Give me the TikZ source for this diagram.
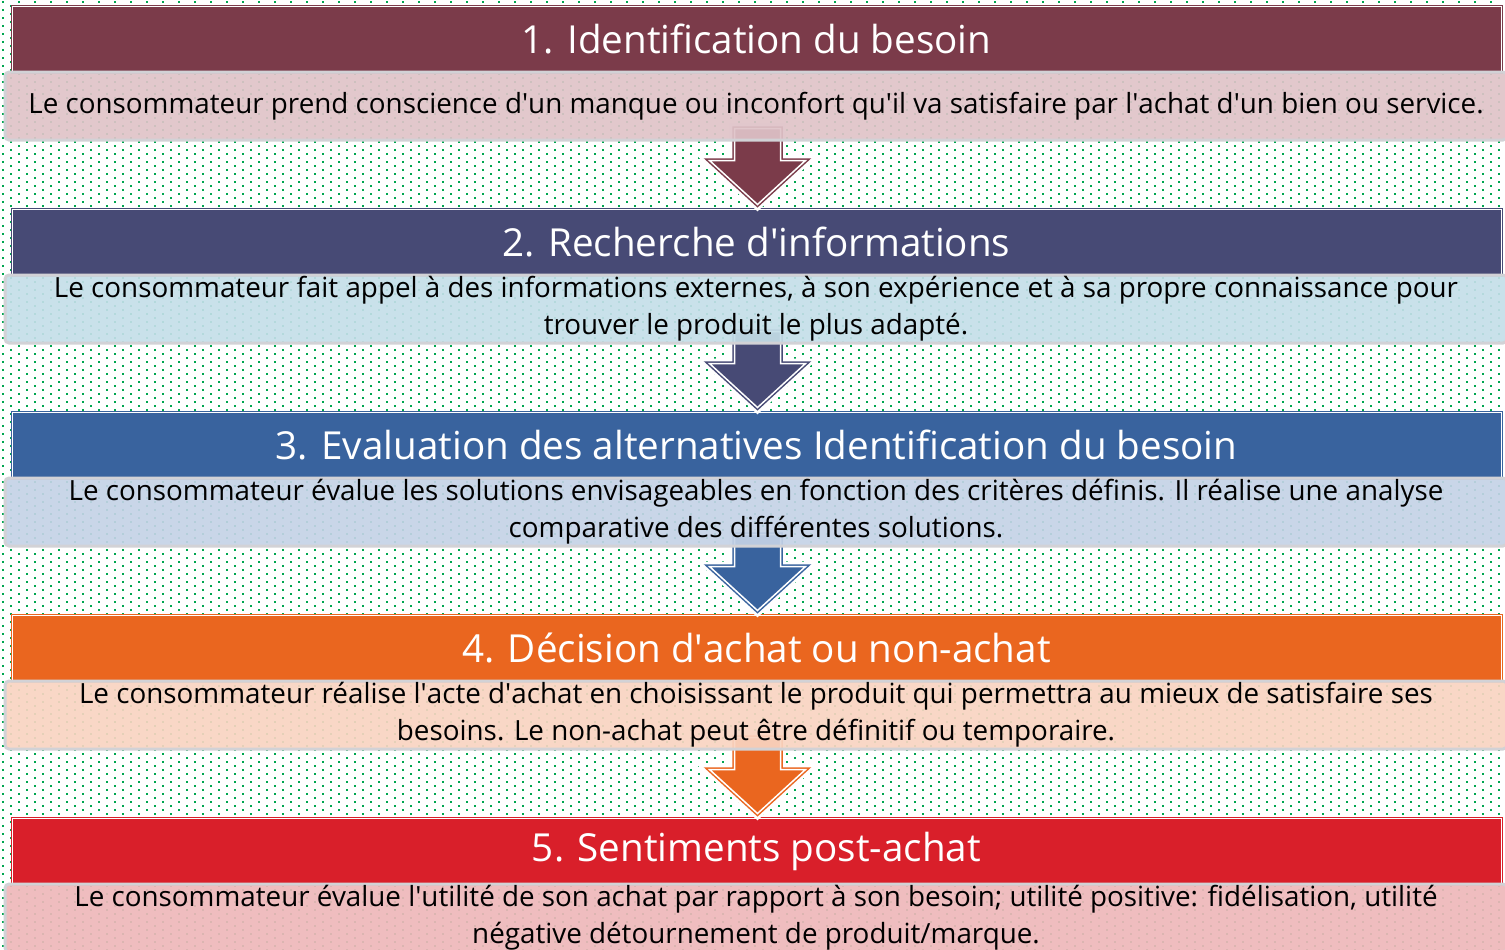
\documentclass[tikz,border=0pt]{standalone}
\usepackage{fontspec}
\setmainfont{Open Sans}
\usetikzlibrary{calc}
\definecolor{dotgreen}{RGB}{0,166,80}
\definecolor{headA}{RGB}{123,59,74}
\definecolor{headB}{RGB}{71,74,117}
\definecolor{headC}{RGB}{57,99,158}
\definecolor{headD}{RGB}{234,102,31}
\definecolor{headE}{RGB}{217,31,42}
\definecolor{lightA}{RGB}{223,195,200}
\definecolor{lightB}{RGB}{196,222,232}
\definecolor{lightC}{RGB}{196,210,230}
\definecolor{lightD}{RGB}{249,212,193}
\definecolor{lightE}{RGB}{238,183,186}
\definecolor{rimgray}{RGB}{210,210,214}
\newcommand{\ap}{\textquotesingle}

\begin{document}
\begin{tikzpicture}[x=0.5pt,y=-0.5pt,
  dotrow/.style={dotgreen, line width=1pt, dash pattern=on 1pt off 7pt},
  headbox/.style={minimum width=744.5pt, minimum height=33pt, inner sep=0pt,
    line width=0.5pt, double=white, double distance=0.5pt, text=white,
    font=\fontsize{19.3}{22}\selectfont},
  textbox/.style={minimum width=751pt, minimum height=34pt, inner sep=0pt,
    draw=rimgray, line width=1.5pt, rounded corners=2pt, fill opacity=0.92,
    text opacity=1, align=center, font=\fontsize{13.9}{18.5}\selectfont},
  blockarrow/.style={line width=2.25pt, line join=miter}]
\useasboundingbox (0,0) rectangle (1505,949);
% dotted background
\foreach \r in {0,...,118} {
  \draw[dotrow] (2,8*\r+2) -- (1505,8*\r+2);
  \draw[dotrow, dash phase=4pt] (2,8*\r+6) -- (1505,8*\r+6);
}

% headers
\node[headbox, draw=headA, fill=headA] (h1) at (756.5,39) {1. Identification du besoin};
\node[headbox, draw=headB, fill=headB] (h2) at (756.5,242) {2. Recherche d\ap informations};
\node[headbox, draw=headC, fill=headC] (h3) at (756.5,445) {3. Evaluation des alternatives Identification du besoin};
\node[headbox, draw=headD, fill=headD] (h4) at (756.5,648) {4. Décision d\ap achat ou non-achat};
\node[headbox, draw=headE, fill=headE] (h5) at (756.5,851) {5. Sentiments post-achat};

% arrows between the steps
\begin{scope}[shift={(h1.south)}]
\path[draw=white, line width=5pt] (-22,56) -- (-22,88) -- (-47,88) -- (1,132) -- (49,88) -- (24,88) -- (24,56) -- cycle;
\path[blockarrow, draw=headA, fill=headA] (-22,56) -- (-22,88) -- (-47,88) -- (1,132) -- (49,88) -- (24,88) -- (24,56) -- cycle;
\path[draw=white, line width=0.75pt] (-22,56) -- (-22,88) -- (-47,88) -- (1,132) -- (49,88) -- (24,88) -- (24,56) -- cycle;
\end{scope}
\begin{scope}[shift={(h2.south)}]
\path[draw=white, line width=5pt] (-22,56) -- (-22,88) -- (-47,88) -- (1,132) -- (49,88) -- (24,88) -- (24,56) -- cycle;
\path[blockarrow, draw=headB, fill=headB] (-22,56) -- (-22,88) -- (-47,88) -- (1,132) -- (49,88) -- (24,88) -- (24,56) -- cycle;
\path[draw=white, line width=0.75pt] (-22,56) -- (-22,88) -- (-47,88) -- (1,132) -- (49,88) -- (24,88) -- (24,56) -- cycle;
\end{scope}
\begin{scope}[shift={(h3.south)}]
\path[draw=white, line width=5pt] (-22,56) -- (-22,88) -- (-47,88) -- (1,132) -- (49,88) -- (24,88) -- (24,56) -- cycle;
\path[blockarrow, draw=headC, fill=headC] (-22,56) -- (-22,88) -- (-47,88) -- (1,132) -- (49,88) -- (24,88) -- (24,56) -- cycle;
\path[draw=white, line width=0.75pt] (-22,56) -- (-22,88) -- (-47,88) -- (1,132) -- (49,88) -- (24,88) -- (24,56) -- cycle;
\end{scope}
\begin{scope}[shift={(h4.south)}]
\path[draw=white, line width=5pt] (-22,56) -- (-22,88) -- (-47,88) -- (1,132) -- (49,88) -- (24,88) -- (24,56) -- cycle;
\path[blockarrow, draw=headD, fill=headD] (-22,56) -- (-22,88) -- (-47,88) -- (1,132) -- (49,88) -- (24,88) -- (24,56) -- cycle;
\path[draw=white, line width=0.75pt] (-22,56) -- (-22,88) -- (-47,88) -- (1,132) -- (49,88) -- (24,88) -- (24,56) -- cycle;
\end{scope}

% texts of the steps
\node[textbox, fill=lightA] (t1) at (756,106) {Le consommateur prend conscience d\ap un manque ou inconfort qu\ap il va satisfaire par l\ap achat d\ap un bien ou service.};
\node[textbox, fill=lightB] (t2) at (756,309) {Le consommateur fait appel à des informations externes, à son expérience et à sa propre connaissance pour\\ trouver le produit le plus adapté.};
\node[textbox, fill=lightC] (t3) at (756,512) {Le consommateur évalue les solutions envisageables en fonction des critères définis. Il réalise une analyse\\ comparative des différentes solutions.};
\node[textbox, fill=lightD] (t4) at (756,715) {Le consommateur réalise l\ap acte d\ap achat en choisissant le produit qui permettra au mieux de satisfaire ses\\ besoins. Le non-achat peut être définitif ou temporaire.};
\node[textbox, fill=lightE] (t5) at (756,918) {Le consommateur évalue l\ap utilité de son achat par rapport à son besoin; utilité positive: fidélisation, utilité\\ négative détournement de produit/marque.};
\end{tikzpicture}
\end{document}
